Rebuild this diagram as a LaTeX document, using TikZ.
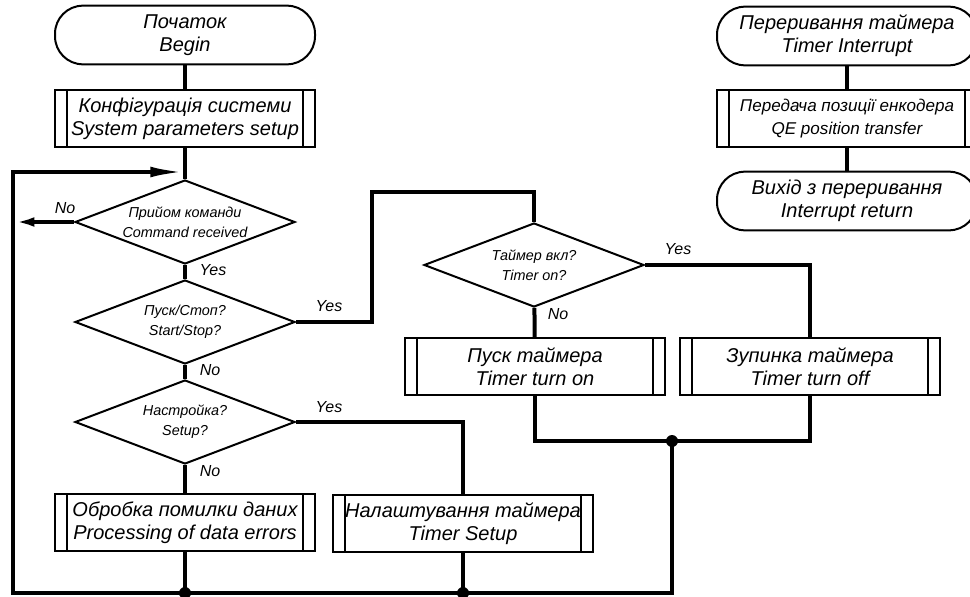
\documentclass[tikz,border=0pt]{standalone}
\usepackage{fontspec}
\setmainfont{Liberation Sans}
\usetikzlibrary{shapes.geometric, arrows.meta, calc}

\begin{document}
\begin{tikzpicture}[
    x=0.75pt, y=-0.75pt,
    terminal/.style={rectangle, draw=black, line width=1.5pt, rounded corners=21pt, minimum width=195pt, minimum height=44pt, inner sep=1pt, align=center, font=\fontsize{15}{17}\selectfont\itshape},
    subproc/.style={rectangle, draw=black, line width=1.5pt, minimum width=195pt, minimum height=42.75pt, inner sep=1pt, align=center, font=\fontsize{15}{17.5}\selectfont\itshape,
        path picture={\draw[line width=1.6pt] ([xshift=9pt]path picture bounding box.north west) -- ([xshift=9pt]path picture bounding box.south west)
            ([xshift=-9pt]path picture bounding box.north east) -- ([xshift=-9pt]path picture bounding box.south east);}},
    decision/.style={diamond, draw=black, line width=1.5pt, aspect=2.6, inner sep=0pt, minimum width=165pt, minimum height=63pt, align=center, font=\fontsize{10.8}{15}\selectfont\itshape},
    lbl/.style={font=\fontsize{12}{13}\selectfont\itshape, inner sep=0pt},
    line/.style={line width=3pt},
    arrow/.style={line width=3pt, -{Latex[length=16pt,width=7pt]}},
    looparrow/.style={line width=3pt, -{Latex[length=26pt,width=8pt]}},
    dot/.style={circle, fill=black, inner sep=0pt, minimum size=9pt}
]
\useasboundingbox (0,0) rectangle (970,596);

% Main program
\node[terminal] (begin) at (185,35) {Початок\\Begin};
\node[subproc] (sysset) at (185,118.5) {Конфігурація системи\\System parameters setup};
\node[decision] (cmd) at (185,222) {Прийом команди\\Command received};
\node[decision] (startstop) at (185,322) {Пуск/Стоп?\\Start/Stop?};
\node[decision] (setupq) at (185,422) {Настройка?\\Setup?};
\node[subproc] (err) at (185,522.5) {Обробка помилки даних\\Processing of data errors};

% Timer branch
\node[decision] (timeron) at (534,265) {Таймер вкл?\\Timer on?};
\node[subproc] (ton) at (535,366.5) {Пуск таймера\\Timer turn on};
\node[subproc] (toff) at (810,366.5) {Зупинка таймера\\Timer turn off};
\node[subproc] (tsetup) at (463,523.5) {Налаштування таймера\\Timer Setup};

% Interrupt routine
\node[terminal] (irq) at (847,36) {Переривання таймера\\Timer Interrupt};
\node[subproc, font=\fontsize{12.8}{17}\selectfont\itshape] (qe) at (847,118.5) {Передача позиції енкодера\\QE position transfer};
\node[terminal] (ret) at (847,201) {Вихід з переривання\\Interrupt return};

% Helper points
\coordinate (lefttop) at (13,172);
\coordinate (leftbot) at (13,593);
\coordinate (ssturn) at (372,192);
\coordinate (tjoin) at (672,441);

% Connections
\draw[line] (begin) -- (sysset);
\draw[line] (sysset) -- (cmd);
\draw[line] (cmd) -- (startstop);
\draw[line] (startstop) -- (setupq);
\draw[line] (setupq) -- (err);
\draw[arrow] (cmd.west) -- (cmd.west -| lefttop);
\draw[line] (startstop.east) -| (ssturn) -| (timeron.north);
\draw[line] (timeron) -- (ton);
\draw[line] (timeron.east) -| (toff.north);
\draw[line] (setupq.east) -| (tsetup.north);
\draw[line] (ton.south) |- (tjoin) -| (toff.south);
\draw[looparrow] (tjoin) |- (leftbot) -- (lefttop) -- (lefttop -| cmd.north);
\draw[line] (err) -- (err.south |- leftbot);
\draw[line] (tsetup) -- (tsetup.south |- leftbot);
\draw[line] (irq) -- (qe);
\draw[line] (qe) -- (ret);

% Junctions
\node[dot] (j1) at (tjoin) {};
\node[dot] (j2) at (err.south |- leftbot) {};
\node[dot] (j3) at (tsetup.south |- leftbot) {};

% Branch labels
\node[lbl] (no1) at (65,208) {No};
\node[lbl] (yes1) at (213,270) {Yes};
\node[lbl] (no2) at (210,370) {No};
\node[lbl] (no3) at (210,471) {No};
\node[lbl] (yes2) at (329,306) {Yes};
\node[lbl] (yes3) at (329,407) {Yes};
\node[lbl] (no4) at (558,314) {No};
\node[lbl] (yes4) at (678,249) {Yes};

\end{tikzpicture}
\end{document}
